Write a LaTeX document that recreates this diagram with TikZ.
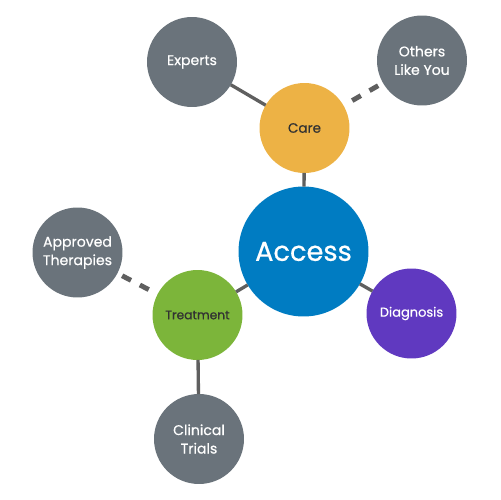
\documentclass[tikz,border=0pt]{standalone}
\usepackage{fontspec}
\setmainfont{Poppins}[FakeBold=0.6]
\usetikzlibrary{calc}
\definecolor{leafgray}{RGB}{106,115,123}
\definecolor{linkgray}{RGB}{95,95,95}
\definecolor{caregold}{RGB}{237,178,69}
\definecolor{accessblue}{RGB}{0,124,194}
\definecolor{treatgreen}{RGB}{124,181,58}
\definecolor{diagpurple}{RGB}{96,57,192}
\definecolor{darktext}{RGB}{50,50,50}

\begin{document}
\begin{tikzpicture}[x=0.02cm, y=-0.02cm,
  bubble/.style={circle, minimum size=1.8cm, inner sep=0pt, outer sep=0pt, align=center,
    font=\fontsize{8}{10.5}\selectfont},
  leaf/.style={bubble, fill=leafgray, text=white},
  link/.style={draw=linkgray, line width=1.9pt},
  weaklink/.style={draw=linkgray, line width=2.8pt, dash pattern=on 0.2cm off 0.2cm, dash phase=0.2cm}]
  \useasboundingbox (0,0) rectangle (500,500);
  % 中心节点与三个分支
  \node[bubble, minimum size=2.6cm, fill=accessblue, text=white, font=\fontsize{15.5}{18}\selectfont] (access) at (303.5,251.5) {Access};
  \node[bubble, fill=caregold, text=darktext, font=\fontsize{7.7}{10}\selectfont] (care) at (304.5,128) {Care};
  \node[bubble, fill=treatgreen, text=darktext, font=\fontsize{7}{9}\selectfont] (treatment) at (197.5,315) {Treatment};
  \node[bubble, fill=diagpurple, text=white, font=\fontsize{7.4}{9}\selectfont] (diagnosis) at (411.5,313.5) {Diagnosis};
  % 外围灰色节点
  \node[leaf] (experts) at (192,62) {Experts};
  \node[leaf] (others) at (422,60.5) {Others\\Like You};
  \node[leaf] (approved) at (77.5,252.5) {Approved\\Therapies};
  \node[leaf] (trials) at (199,439) {Clinical\\Trials};
  % 连线：实线与虚线
  \draw[link] (care) -- (access);
  \draw[link] (experts) -- (care);
  \draw[link] (access) -- (treatment);
  \draw[link] (access) -- (diagnosis);
  \draw[link] (treatment) -- (trials);
  \draw[weaklink] (care) -- (others);
  \draw[weaklink] (treatment) -- (approved);
\end{tikzpicture}
\end{document}
